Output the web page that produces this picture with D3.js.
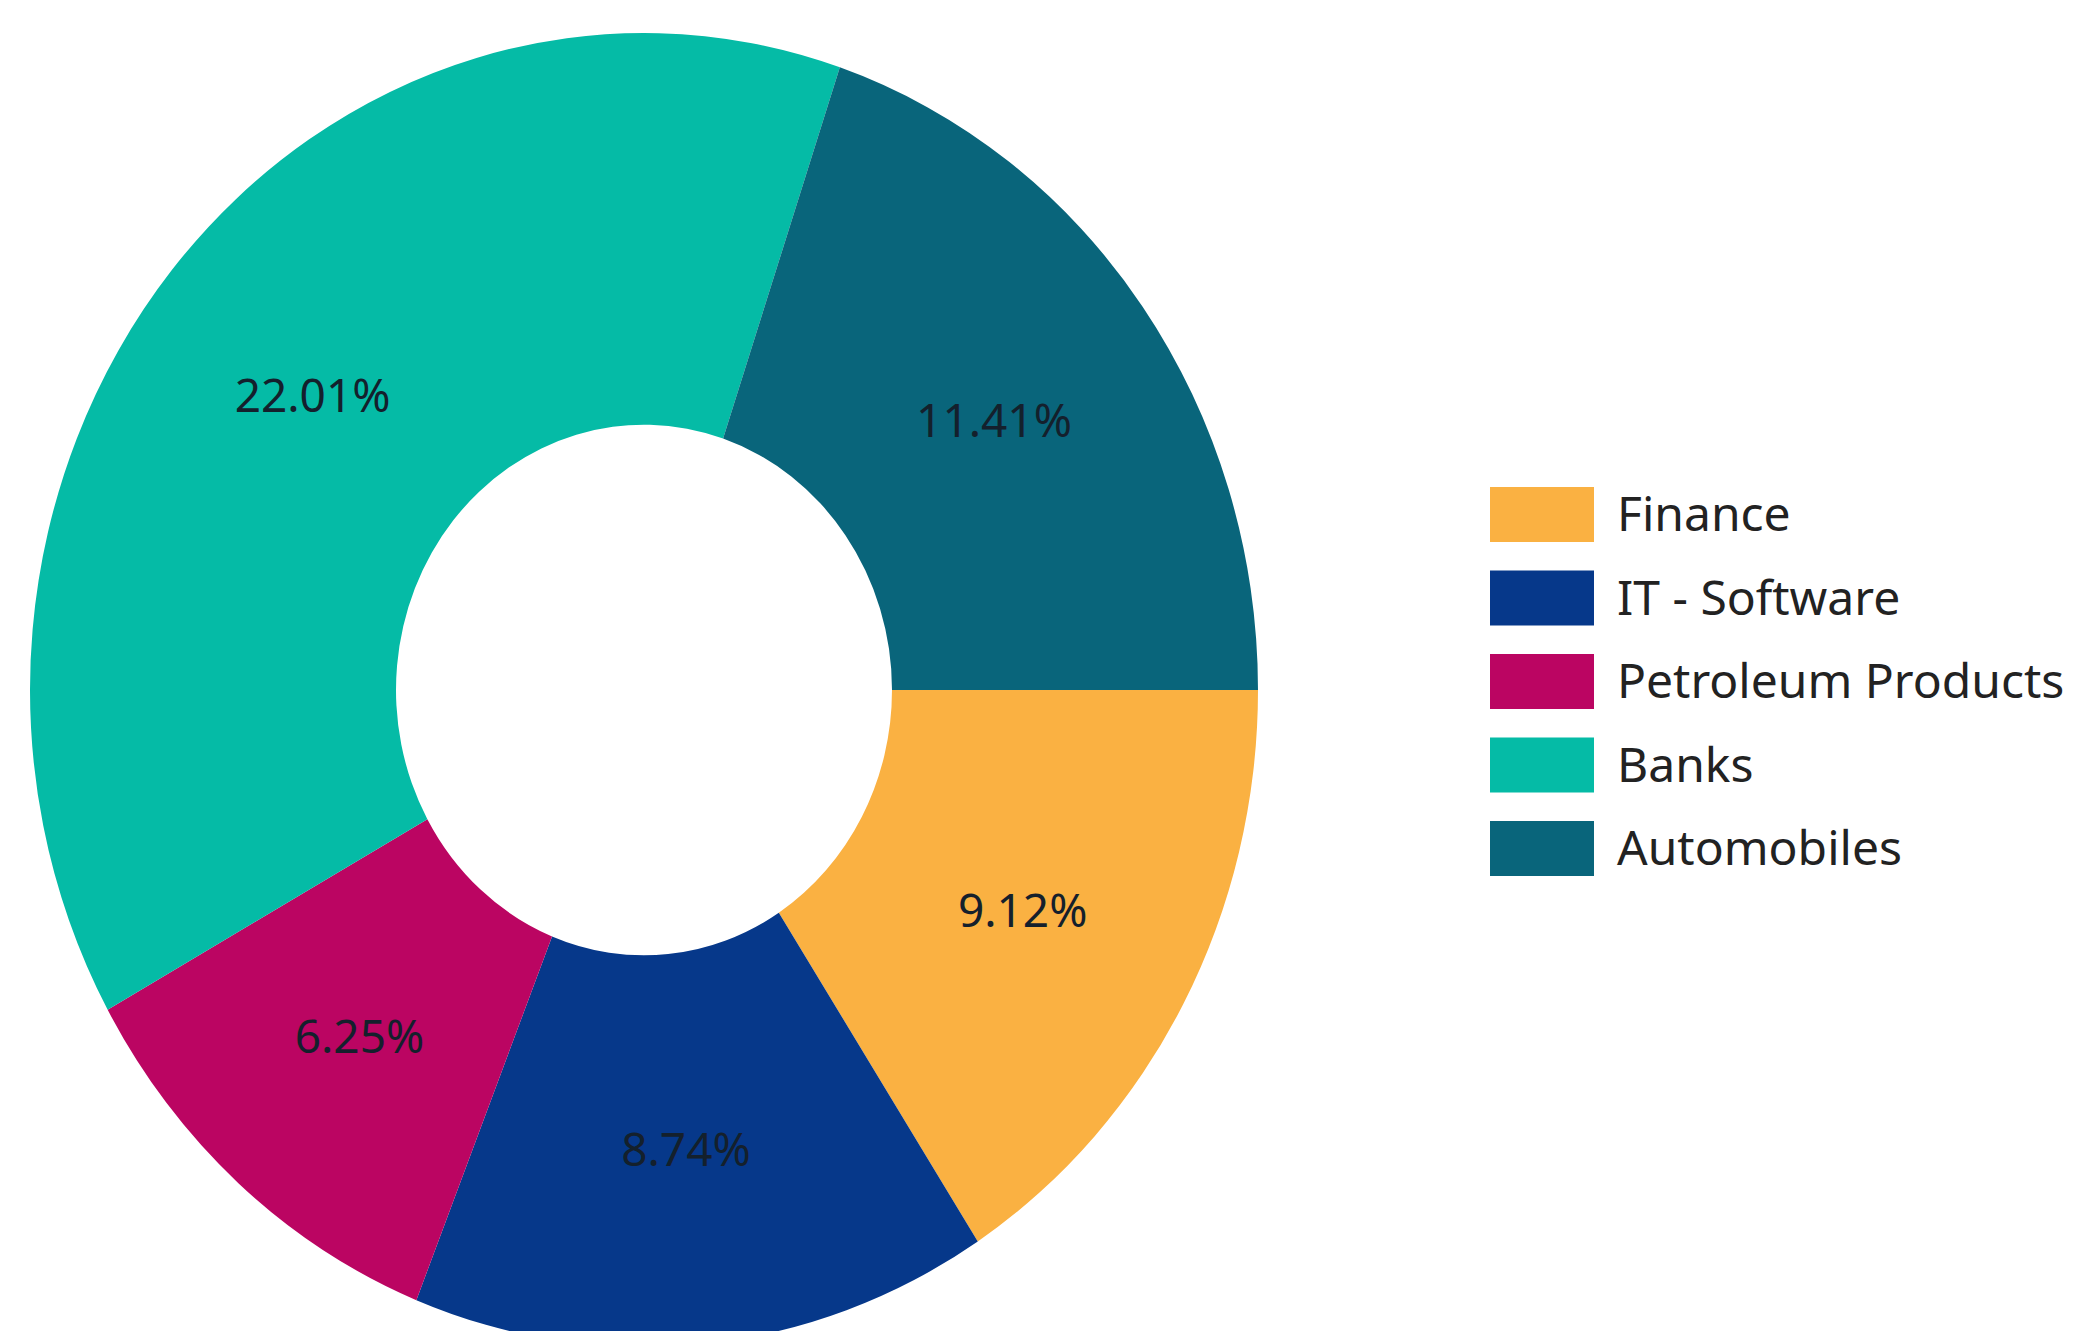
<!DOCTYPE html>
<html>
<head>
<meta charset="utf-8">
<script src="https://cdn.jsdelivr.net/npm/d3@7"></script>
<style>
  html, body { margin: 0; padding: 0; background: #fff; }
  text { font-family: 'Noto Sans', sans-serif; }
</style>
</head>
<body>
<script>
window.document.addEventListener('DOMContentLoaded', init, false);

var sectors = ['Finance', 'IT - Software', 'Petroleum Products', 'Banks', 'Automobiles'];
var weights = [9.12, 8.74, 6.25, 22.01, 11.41];
var colours = ['#FAB142', '#06388A', '#BB0562', '#05BBA6', '#09657B'];

var width = 2092;
var height = 1331;
var cx = 644, cy = 690;
var outerR = 614, innerR = 248;
var stretch = 1.07;   // the original picture is a little taller than wide

var svg;

var pie = d3.pie()
            .value(function(d) { return d.value; })
            .sort(null)
            .startAngle(Math.PI / 2)
            .endAngle(Math.PI / 2 + 2 * Math.PI);

var arc = d3.arc()
            .innerRadius(innerR)
            .outerRadius(outerR);

var colour = d3.scaleOrdinal()
                .domain(sectors)
                .range(colours);

function init() {
    svg = createCanvas();
    drawDonut();
    drawLabels();
    drawLegend();
}

function createCanvas() {
    return d3.select('body')
        .append('svg')
        .attr('width', width)
        .attr('height', height);
}

function slices() {
    return pie(sectors.map(function(s, i) { return { name: s, value: weights[i] }; }));
}

function drawDonut() {
    svg.append('g')
        .attr('transform', `translate(${cx}, ${cy}) scale(1, ${stretch})`)
        .selectAll('path')
        .data(slices())
        .enter()
            .append('path')
            .attr('d', arc)
            .attr('fill', function(d) { return colour(d.data.name); });
}

function drawLabels() {
    svg.append('g')
        .attr('transform', `translate(${cx}, ${cy})`)
        .selectAll('text')
        .data(slices())
        .enter()
            .append('text')
            .attr('x', function(d) { return arc.centroid(d)[0]; })
            .attr('y', function(d) { return arc.centroid(d)[1] * stretch; })
            .attr('text-anchor', 'middle')
            .attr('dy', '0.36em')
            .attr('font-size', 46)
            .attr('fill', '#14202c')
            .text(function(d) { return d.data.value.toFixed(2) + '%'; });
}

function drawLegend() {
    var y = d3.scaleBand()
                .domain(sectors)
                .range([487, 487 + 83.5 * sectors.length])
                .paddingInner(0);

    var rows = svg.append('g')
        .selectAll('g')
        .data(sectors)
        .enter()
            .append('g')
            .attr('transform', function(d) { return `translate(1490, ${y(d)})`; });

    rows.append('rect')
        .attr('width', 104)
        .attr('height', 55)
        .attr('fill', function(d) { return colour(d); });

    rows.append('text')
        .attr('x', 127)
        .attr('y', 44)
        .attr('font-size', 48)
        .attr('fill', '#222')
        .text(function(d) { return d; });
}
</script>
</body>
</html>
